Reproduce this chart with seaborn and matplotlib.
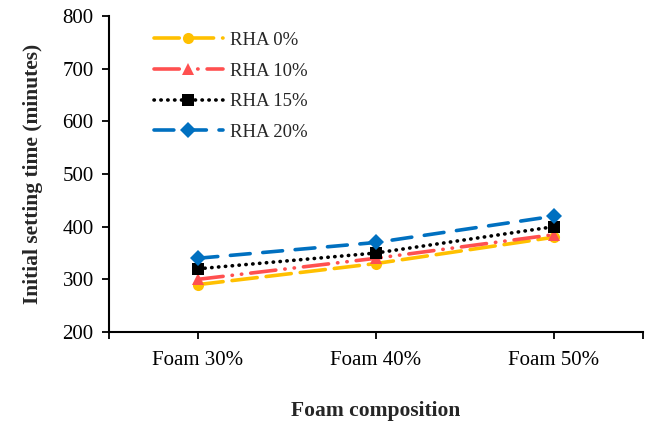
import matplotlib
matplotlib.use("Agg")
import matplotlib.pyplot as plt
import seaborn as sns
import pandas as pd

categories = ["Foam 30%", "Foam 40%", "Foam 50%"]
series_names = ["RHA 0%", "RHA 10%", "RHA 15%", "RHA 20%"]
rha0 = [290, 330, 380]
rha10 = [300, 340, 385]
rha15 = [320, 350, 400]
rha20 = [340, 370, 420]
y_ticks = [200, 300, 400, 500, 600, 700, 800]

values = [rha0, rha10, rha15, rha20]
rows = []
for name, vals in zip(series_names, values):
    for c, v in zip(categories, vals):
        rows.append({"Foam composition": c, "value": v, "series": name})
df = pd.DataFrame(rows)

sns.set_theme(style="white")
plt.rcParams["font.family"] = ["Liberation Serif", "DejaVu Serif"]

palette = {"RHA 0%": "#FFC000", "RHA 10%": "#FF5050", "RHA 15%": "#000000", "RHA 20%": "#0070C0"}
dashes = {"RHA 0%": (7, 2.5), "RHA 10%": (7, 2.5, 0.1, 2.5, 0.1, 2.5),
          "RHA 15%": (0.1, 1.8), "RHA 20%": (5.5, 3.5)}
markers = {"RHA 0%": "o", "RHA 10%": "^", "RHA 15%": "s", "RHA 20%": "D"}

fig = plt.figure(figsize=(6.5, 4.21), dpi=100)
ax = fig.add_axes([109/650, 1-332/421, (643-109)/650, (332-16)/421])

sns.lineplot(data=df, x="Foam composition", y="value", hue="series", style="series",
             palette=palette, dashes=dashes, markers=markers, markersize=8,
             linewidth=2.6, markeredgewidth=0, sort=False, ax=ax)
for ln in ax.get_lines():
    ln.set_dash_capstyle("round")

ax.set_xlim(-0.5, 2.5)
ax.set_ylim(200, 800)
ax.set_yticks(y_ticks)
ax.set_xticks(range(len(categories)))
ax.set_xticklabels(categories)
ax.set_xticks([-0.5, 2.5], minor=True)
for s in ["top", "right"]:
    ax.spines[s].set_visible(False)
for s in ["left", "bottom"]:
    ax.spines[s].set_color("black")
    ax.spines[s].set_linewidth(1.5)
ax.tick_params(axis="both", which="both", direction="out", length=5, width=1.3, color="black",
               labelsize=15, labelcolor="black", bottom=True, left=True)
ax.tick_params(axis="x", pad=9)
ax.tick_params(axis="y", pad=6)
ax.set_xlabel("Foam composition", fontsize=15.5, fontweight="bold", labelpad=22)
ax.set_ylabel("Initial setting time (minutes)", fontsize=15.5, fontweight="bold", labelpad=14)

leg = ax.legend(loc="upper left", bbox_to_anchor=(0.052, 1.003), frameon=False,
                fontsize=13.5, handlelength=3.7, labelspacing=0.72, handletextpad=0.35)
for h in leg.get_lines():
    h.set_linewidth(2.6)
    h.set_dash_capstyle("round")

fig.savefig("out.png", dpi=100)
